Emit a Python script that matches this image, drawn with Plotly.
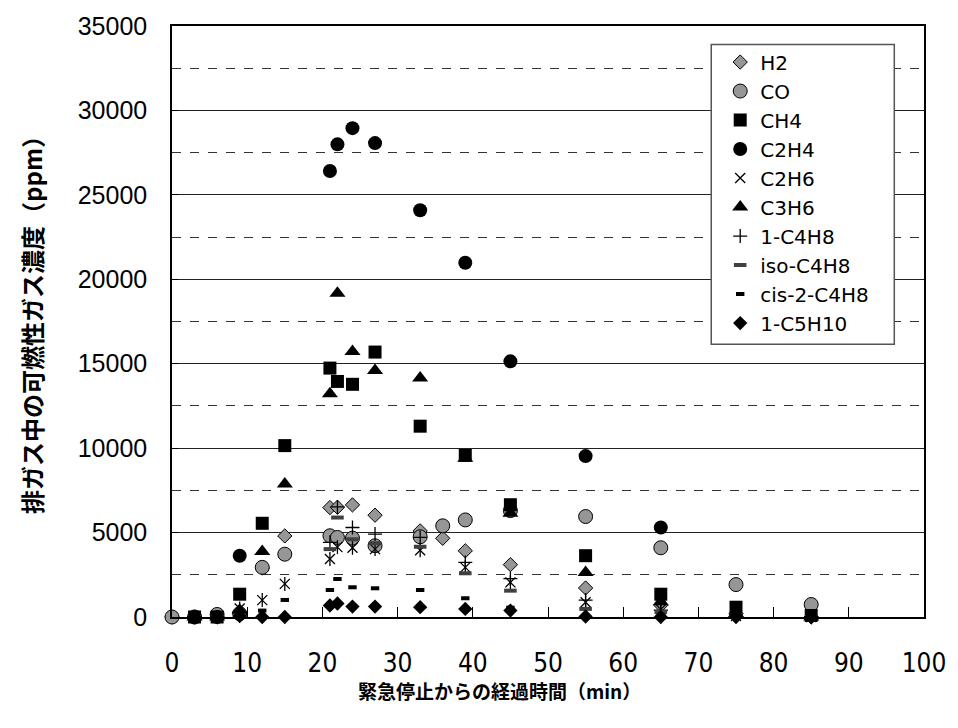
import plotly.graph_objects as go

# ---- data ----
times = [0, 3, 6, 9, 12, 15, 21, 22, 24, 27, 33, 36, 39, 45, 55, 65, 75, 85]

h2      = [0, 0, 0, 300, 2900, 4800, 6480, 6500, 6640, 6030, 5100, 4660, 3920, 3100, 1720, 700, 200, 0]
co      = [0, 0, 150, 200, 2940, 3720, 4810, 4710, 4670, 4220, 4750, 5400, 5750, 6300, 5950, 4100, 1920, 740]
ch4     = [None, 0, 0, 1350, 5550, 10150, 14740, 13950, 13780, 15690, 11300, None, 9570, 6650, 3630, 1350, 580, 90]
c2h4    = [None, 0, 0, 3630, None, None, 26410, 27990, 28950, 28065, 24090, None, 20980, 15140, 9530, 5300, None, None]
c2h6    = [None, 0, 0, 500, 1000, 1960, 3430, 4140, 4100, 4020, 3950, None, 2940, 2050, 870, 450, 50, 0]
c3h6    = [None, 0, 0, 400, 3880, 7880, 13220, 19170, 15720, 14600, 14150, None, 9400, 6150, 2640, 900, 200, 0]
c4h8_1  = [None, 0, 0, 200, None, None, 4420, 6520, 5300, 4910, 4710, None, 3230, 2270, 1000, 400, 100, 0]
c4h8_iso = [None, 0, 0, 100, None, None, 4020, 5890, 4600, 4370, 4160, None, 2590, 1560, 480, 300, 0, 0]
c4h8_cis = [None, 0, 0, 100, 380, 1010, 1600, 2250, 1760, 1700, 1600, None, 1110, 550, 0, 0, 0, 0]
c5h10_1 = [None, 0, 0, 50, 0, 0, 680, 800, 620, 620, 580, None, 480, 380, 30, 0, 0, 0]

series_names = ["H2", "CO", "CH4", "C2H4", "C2H6", "C3H6", "1-C4H8", "iso-C4H8", "cis-2-C4H8", "1-C5H10"]
series_values = [h2, co, ch4, c2h4, c2h6, c3h6, c4h8_1, c4h8_iso, c4h8_cis, c5h10_1]

x_title = "緊急停止からの経過時間（min）"
y_title = "排ガス中の可燃性ガス濃度（ppm）"

GRAY = "#969696"
styles = [
    dict(symbol="diamond", size=11, color=GRAY, line=dict(color="black", width=1)),
    dict(symbol="circle", size=14, color=GRAY, line=dict(color="black", width=1)),
    dict(symbol="square", size=13, color="black", line=dict(color="black", width=0)),
    dict(symbol="circle", size=14, color="black", line=dict(color="black", width=0)),
    dict(symbol="x-thin-open", size=10, color="black", line=dict(color="black", width=1.3)),
    dict(symbol="triangle-up", size=14, color="black", line=dict(color="black", width=0)),
    dict(symbol="cross-thin-open", size=10, color="black", line=dict(color="black", width=1.3)),
    dict(symbol="line-ew-open", size=9, color="#404040", line=dict(color="#404040", width=4)),
    dict(symbol="line-ew-open", size=6, color="black", line=dict(color="black", width=4)),
    dict(symbol="diamond", size=11, color="black", line=dict(color="black", width=0)),
]

fig = go.Figure()
for i, (name, vals, st) in enumerate(zip(series_names, series_values, styles)):
    xs = [t for t, v in zip(times, vals) if v is not None]
    ys = [v for v in vals if v is not None]
    fig.add_trace(go.Scatter(
        x=xs, y=ys, mode="markers", name=name, marker=st,
        cliponaxis=False, legendgroup=name,
    ))
    if name == "C2H6":
        # vertical stroke to complete the six-armed star marker
        fig.add_trace(go.Scatter(
            x=xs, y=ys, mode="markers", name=name, showlegend=False,
            legendgroup=name, cliponaxis=False, hoverinfo="skip",
            marker=dict(symbol="line-ns-open", size=10, color="black",
                        line=dict(color="black", width=1.3)),
        ))

fig.update_layout(
    width=958, height=728,
    margin=dict(l=172, r=26, t=22, b=111),
    plot_bgcolor="white", paper_bgcolor="white",
    showlegend=True,
    legend=dict(
        x=0.729, y=0.972, xanchor="left", yanchor="top",
        bgcolor="rgba(0,0,0,0)", borderwidth=0,
        font=dict(family="DejaVu Sans", size=20, color="black"),
        traceorder="normal", tracegroupgap=0,
    ),
    xaxis=dict(
        range=[0, 100], dtick=10, tick0=0,
        showgrid=False, zeroline=False,
        showline=True, linecolor="black", linewidth=1.5, mirror=True,
        ticks="inside", ticklen=10, tickcolor="black",
        ticklabelstandoff=22,
        tickfont=dict(family="Liberation Sans Narrow, DejaVu Sans Condensed, sans-serif", size=26, color="black"),
    ),
    yaxis=dict(
        range=[0, 35000], dtick=5000, tick0=0, tickformat="d",
        showgrid=True, gridcolor="#222222", gridwidth=1,
        minor=dict(dtick=2500, showgrid=True, gridcolor="#333333", griddash="dash", gridwidth=1),
        zeroline=False,
        showline=True, linecolor="black", linewidth=1.5, mirror=True,
        ticks="inside", ticklen=6, tickcolor="black",
        ticklabelstandoff=18,
        tickfont=dict(family="Liberation Sans, Arial, sans-serif", size=25, color="black"),
    ),
    shapes=[
        dict(type="rect", xref="paper", yref="paper",
             x0=0.7171, x1=0.9605, y0=0.4617, y1=0.9685,
             fillcolor="white", line=dict(color="#555555", width=1.5), layer="above"),
    ],
    annotations=[
        dict(text=x_title, xref="paper", yref="paper", x=0.435, y=-0.125,
             xanchor="center", yanchor="middle", showarrow=False,
             font=dict(family="Noto Sans CJK JP", size=19, color="black", weight="bold")),
        dict(text=y_title, xref="paper", yref="paper", x=-0.187, y=0.505,
             xanchor="center", yanchor="middle", showarrow=False, textangle=-90,
             font=dict(family="Noto Sans CJK JP", size=24, color="black", weight="bold")),
    ],
)

fig.write_html("out.html")
